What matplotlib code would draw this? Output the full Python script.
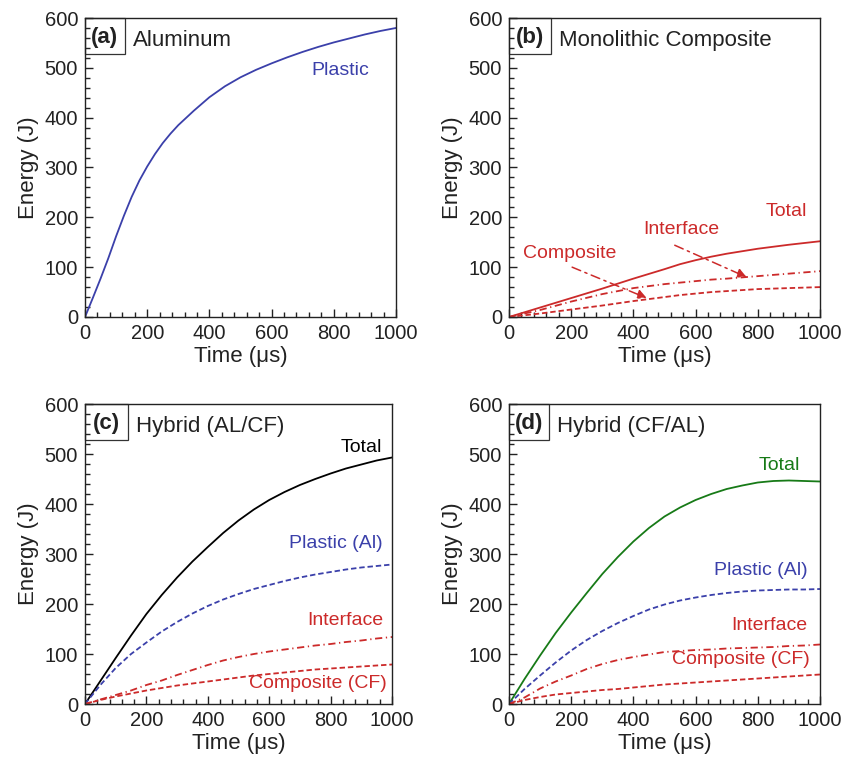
import numpy as np
import matplotlib.pyplot as plt
from matplotlib.ticker import MultipleLocator
from matplotlib.patches import Rectangle

plt.rcParams['font.family'] = ['Liberation Sans', 'DejaVu Sans']

BLUE = '#3b40aa'
RED = '#cc2a2a'
GREEN = '#177a17'

# (a) aluminum
t_a = [0, 25, 50, 75, 100, 125, 150, 175, 200, 225, 250, 275, 300, 350, 400,
       450, 500, 550, 600, 650, 700, 750, 800, 850, 900, 950, 1000]
plastic_a = [0, 38, 77, 118, 162, 203, 241, 274, 302, 327, 349, 368, 385, 414, 441,
             463, 481, 496, 509, 521, 532, 542, 551, 559, 567, 574, 580]

# (b) monolithic composite
t_b = [0, 100, 200, 300, 400, 500, 550, 600, 650, 700, 800, 900, 1000]
total_b = [0, 19, 38, 57, 77, 96, 106, 114, 121, 127, 137, 145, 152]
interface_b = [0, 14, 31, 46, 58, 66, 69, 72, 75, 77, 82, 87, 92]
composite_b = [0, 7, 15, 23, 32, 40, 44, 47, 50, 52, 56, 58, 60]

# (c) hybrid AL/CF
t_cd = [0, 50, 100, 150, 200, 250, 300, 350, 400, 450, 500,
        550, 600, 650, 700, 750, 800, 850, 900, 950, 1000]
total_c = [0, 46, 92, 137, 180, 218, 253, 285, 314, 342, 367,
           389, 408, 424, 438, 450, 461, 471, 479, 487, 493]
plastic_c = [0, 38, 72, 100, 123, 145, 164, 181, 196, 209, 220,
             230, 238, 246, 253, 259, 264, 269, 273, 276, 279]
interface_c = [0, 9, 18, 27, 38, 47, 58, 68, 78, 87, 94,
               100, 105, 109, 113, 117, 120, 124, 127, 131, 134]
composite_c = [0, 8, 15, 21, 27, 32, 37, 41, 45, 49, 53,
               57, 60, 63, 66, 69, 71, 73, 75, 77, 79]

# (d) hybrid CF/AL
total_d = [0, 50, 97, 142, 183, 222, 260, 294, 325, 352, 375,
           393, 408, 420, 430, 437, 443, 446, 447, 446, 445]
plastic_d = [0, 30, 57, 83, 107, 128, 146, 162, 176, 189, 199,
             207, 213, 218, 222, 225, 227, 228, 229, 229, 230]
interface_d = [0, 13, 31, 45, 57, 70, 80, 88, 94, 99, 104,
               106, 108, 109, 111, 112, 113, 114, 116, 117, 119]
composite_d = [0, 8, 14, 19, 22, 25, 28, 30, 33, 36, 39,
               41, 43, 45, 47, 49, 51, 53, 55, 57, 59]

dashdot = (0, (4, 2, 0.7, 2))
dashed = (0, (3, 1.6))
LW = 1.3
LBL = 14

fig = plt.figure(figsize=(8.58, 7.59), dpi=100)
W = 311 / 858
H = 299 / 759
ax_a = fig.add_axes([85 / 858, 1 - 317 / 759, W, H])
ax_b = fig.add_axes([509 / 858, 1 - 317 / 759, W, H])
ax_c = fig.add_axes([85 / 858, 1 - 704 / 759, 307 / 858, 300 / 759])
ax_d = fig.add_axes([509 / 858, 1 - 704 / 759, W, 300 / 759])


def setup(ax, tag, title, box_w):
    ax.set_xlim(0, 1000)
    ax.set_ylim(0, 600)
    ax.xaxis.set_major_locator(MultipleLocator(200))
    ax.xaxis.set_minor_locator(MultipleLocator(40))
    ax.yaxis.set_major_locator(MultipleLocator(100))
    ax.yaxis.set_minor_locator(MultipleLocator(20))
    ax.tick_params(which='both', direction='in', top=False, right=False,
                   labelsize=14.5, width=1.0, colors='#222222', pad=5)
    ax.tick_params(which='major', length=6)
    ax.tick_params(which='minor', length=3.5)
    for s in ax.spines.values():
        s.set_linewidth(1.0)
        s.set_color('#222222')
    ax.set_xlabel('Time (μs)', fontsize=16, labelpad=2, color='#222222')
    ax.set_ylabel('Energy (J)', fontsize=16, labelpad=4, color='#222222')
    ax.add_patch(Rectangle((0, 0.88), box_w, 0.12, transform=ax.transAxes,
                           fill=False, lw=0.9, ec='#333333', clip_on=False))
    ax.text(box_w / 2, 0.935, tag, transform=ax.transAxes, ha='center', va='center',
            fontsize=16, fontweight='bold', color='#222222')
    ax.text(box_w + 0.025, 0.925, title, transform=ax.transAxes, ha='left',
            va='center', fontsize=16, color='#222222')


setup(ax_a, '(a)', 'Aluminum', 0.128)
ax_a.plot(t_a, plastic_a, color=BLUE, lw=LW)
ax_a.text(820, 494, 'Plastic', color=BLUE, ha='center', va='center', fontsize=LBL)

setup(ax_b, '(b)', 'Monolithic Composite', 0.135)
ax_b.plot(t_b, total_b, color=RED, lw=LW)
ax_b.plot(t_b, interface_b, color=RED, lw=LW, linestyle=dashdot)
ax_b.plot(t_b, composite_b, color=RED, lw=LW, linestyle=dashed)
ax_b.text(891, 211, 'Total', color=RED, ha='center', va='center', fontsize=LBL)
ax_b.text(553, 175, 'Interface', color=RED, ha='center', va='center', fontsize=LBL)
ax_b.text(196, 128, 'Composite', color=RED, ha='center', va='center', fontsize=LBL)
arrow = dict(arrowstyle='-|>', color=RED, lw=1.1, linestyle=(0, (6, 3, 1.5, 3)),
             mutation_scale=14, shrinkA=0, shrinkB=0)
ax_b.annotate('', xy=(443, 38), xytext=(203, 100), arrowprops=arrow)
ax_b.annotate('', xy=(764, 80), xytext=(533, 144), arrowprops=arrow)

setup(ax_c, '(c)', 'Hybrid (AL/CF)', 0.14)
ax_c.plot(t_cd, total_c, color='black', lw=LW)
ax_c.plot(t_cd, plastic_c, color=BLUE, lw=LW, linestyle=dashed)
ax_c.plot(t_cd, interface_c, color=RED, lw=LW, linestyle=dashdot)
ax_c.plot(t_cd, composite_c, color=RED, lw=LW, linestyle=dashed)
ax_c.text(899, 514, 'Total', color='black', ha='center', va='center', fontsize=LBL)
ax_c.text(817, 320, 'Plastic (Al)', color=BLUE, ha='center', va='center', fontsize=LBL)
ax_c.text(849, 167, 'Interface', color=RED, ha='center', va='center', fontsize=LBL)
ax_c.text(757, 40, 'Composite (CF)', color=RED, ha='center', va='center', fontsize=LBL)

setup(ax_d, '(d)', 'Hybrid (CF/AL)', 0.128)
ax_d.plot(t_cd, total_d, color=GREEN, lw=LW)
ax_d.plot(t_cd, plastic_d, color=BLUE, lw=LW, linestyle=dashed)
ax_d.plot(t_cd, interface_d, color=RED, lw=LW, linestyle=dashdot)
ax_d.plot(t_cd, composite_d, color=RED, lw=LW, linestyle=dashed)
ax_d.text(868, 477, 'Total', color=GREEN, ha='center', va='center', fontsize=LBL)
ax_d.text(811, 267, 'Plastic (Al)', color=BLUE, ha='center', va='center', fontsize=LBL)
ax_d.text(836, 157, 'Interface', color=RED, ha='center', va='center', fontsize=LBL)
ax_d.text(745, 90, 'Composite (CF)', color=RED, ha='center', va='center', fontsize=LBL)

fig.savefig('out.png', dpi=100)
